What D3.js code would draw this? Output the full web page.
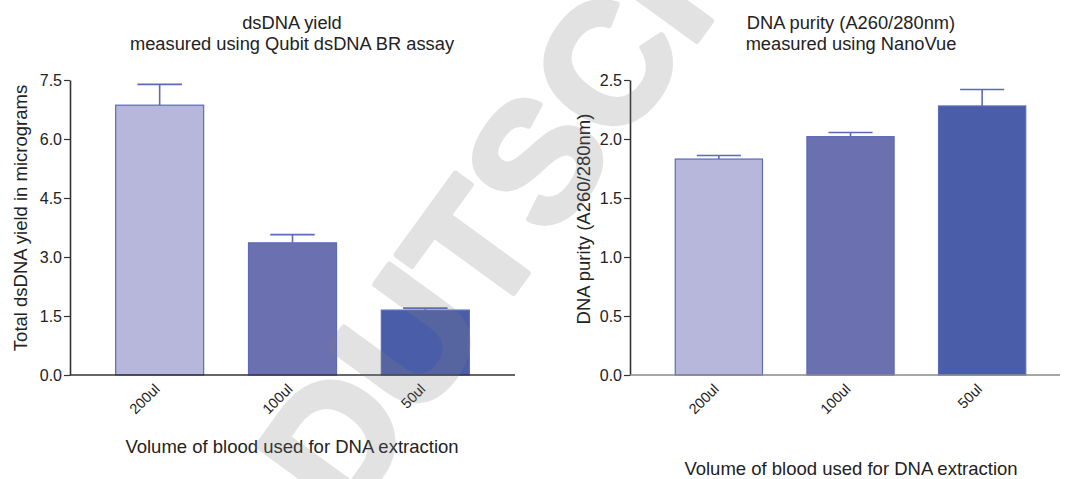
<!DOCTYPE html>
<html lang="en">
<head>
    <meta charset="UTF-8">
    <title>DNA yield and purity</title>
    <style>
        body { margin: 0; background: #fff; }
        text { font-family: "Liberation Sans", Arial, sans-serif; fill: #222; }
    </style>
    <script src="https://d3js.org/d3.v7.min.js"></script>
</head>
<body>
    <svg width="1070" height="479"></svg>
    <script>
        const volumes = ["200ul", "100ul", "50ul"];
        const barColors = ["#b7b7db", "#6b70b0", "#4a5da8"];

        // left panel - Qubit
        const yieldMeans = [6.86, 3.36, 1.65];
        const yieldErrors = [0.53, 0.21, 0.05];
        const yieldTicks = [0, 1.5, 3.0, 4.5, 6.0, 7.5];

        // right panel - NanoVue
        const purityMeans = [1.83, 2.02, 2.28];
        const purityErrors = [0.03, 0.035, 0.14];
        const purityTicks = [0, 0.5, 1.0, 1.5, 2.0, 2.5];

        const svg = d3.select("svg");
        const plotTop = 80, plotBottom = 375;
        const bigFont = 18.5;

        function drawPanel(p) {
            const g = svg.append("g");

            const x = d3.scaleBand()
                .domain(volumes)
                .range([p.left, p.right])
                .paddingInner(0.33)
                .paddingOuter(0.34);

            const y = d3.scaleLinear()
                .domain([0, p.max])
                .range([plotBottom, plotTop]);

            const rows = volumes.map((v, i) => ({ v: v, mean: p.means[i], err: p.errors[i], color: barColors[i] }));

            g.selectAll("rect.bar")
                .data(rows)
                .enter().append("rect")
                .attr("class", "bar")
                .attr("x", d => x(d.v) + 0.5)
                .attr("width", x.bandwidth() - 1)
                .attr("y", d => y(d.mean))
                .attr("height", d => y(0) - y(d.mean))
                .attr("fill", d => d.color)
                .attr("stroke", "#5b6abb")
                .attr("stroke-width", 1.2);

            // error bars (upper half only)
            const err = g.selectAll("g.err")
                .data(rows)
                .enter().append("g")
                .attr("class", "err")
                .attr("stroke", "#5b6abb")
                .attr("stroke-width", 1.6);
            err.append("line")
                .attr("x1", d => x(d.v) + x.bandwidth() / 2)
                .attr("x2", d => x(d.v) + x.bandwidth() / 2)
                .attr("y1", d => y(d.mean))
                .attr("y2", d => y(d.mean + d.err));
            err.append("line")
                .attr("x1", d => x(d.v) + x.bandwidth() / 4)
                .attr("x2", d => x(d.v) + x.bandwidth() * 3 / 4)
                .attr("y1", d => y(d.mean + d.err))
                .attr("y2", d => y(d.mean + d.err));

            // y axis
            const yAxis = g.append("g")
                .attr("transform", `translate(${p.left},0)`)
                .call(d3.axisLeft(y).tickValues(p.ticks).tickFormat(d3.format(".1f")).tickSize(6).tickSizeOuter(0));
            yAxis.select(".domain").attr("stroke", "#333").attr("stroke-width", 1.6);
            yAxis.selectAll(".tick line").attr("stroke", "#333").attr("stroke-width", 1.2);
            yAxis.selectAll(".tick text")
                .attr("font-size", 16)
                .attr("x", -8)
                .style("font-family", "Liberation Sans, Arial, sans-serif")
                .attr("fill", "#222");

            // x axis
            const xAxis = g.append("g")
                .attr("transform", `translate(0,${plotBottom})`)
                .call(d3.axisBottom(x).tickSize(0));
            xAxis.select(".domain").remove();
            g.append("line")
                .attr("x1", p.left)
                .attr("x2", p.axisEnd)
                .attr("y1", plotBottom)
                .attr("y2", plotBottom)
                .attr("stroke", p.xAxisColor)
                .attr("stroke-width", 1.6);
            xAxis.selectAll(".tick text")
                .attr("font-size", 14.5)
                .style("font-family", "Liberation Sans, Arial, sans-serif")
                .attr("fill", "#222")
                .attr("text-anchor", "end")
                .attr("dy", null)
                .attr("y", 0)
                .attr("transform", "translate(1,15) rotate(-45)");

            // titles
            const cx = p.titleX;
            g.append("text").attr("x", cx).attr("y", 29).attr("text-anchor", "middle")
                .attr("font-size", 18.3).text(p.title[0]);
            g.append("text").attr("x", cx).attr("y", 50).attr("text-anchor", "middle")
                .attr("font-size", 18.3).text(p.title[1]);

            g.append("text")
                .attr("transform", `translate(${p.yLabelX},${p.yLabelY}) rotate(-90)`)
                .attr("text-anchor", "middle")
                .attr("font-size", bigFont)
                .text(p.yLabel);

            g.append("text")
                .attr("x", cx)
                .attr("y", p.xLabelY)
                .attr("text-anchor", "middle")
                .attr("font-size", bigFont)
                .text("Volume of blood used for DNA extraction");
        }

        drawPanel({
            left: 70, right: 515, axisEnd: 515, max: 7.5,
            means: yieldMeans, errors: yieldErrors, ticks: yieldTicks,
            title: ["dsDNA yield", "measured using Qubit dsDNA BR assay"],
            titleX: 292,
            yLabel: "Total dsDNA yield in micrograms",
            yLabelX: 27, yLabelY: 218,
            xLabelY: 453,
            xAxisColor: "#333"
        });

        drawPanel({
            left: 630, right: 1071, axisEnd: 1060, max: 2.5,
            means: purityMeans, errors: purityErrors, ticks: purityTicks,
            title: ["DNA purity (A260/280nm)", "measured using NanoVue"],
            titleX: 851,
            yLabel: "DNA purity (A260/280nm)",
            yLabelX: 590, yLabelY: 219,
            xLabelY: 475,
            xAxisColor: "#888"
        });

        // watermark over the charts
        svg.append("text")
            .attr("transform", "translate(298,489) rotate(-54)")
            .attr("font-size", 170)
            .attr("font-weight", "bold")
            .attr("dominant-baseline", "central")
            .style("fill", "#808080")
            .style("stroke", "#808080")
            .style("stroke-width", 6)
            .style("stroke-linejoin", "round")
            .style("opacity", 0.22)
            .text("DUTSCHER");
    </script>
</body>
</html>
